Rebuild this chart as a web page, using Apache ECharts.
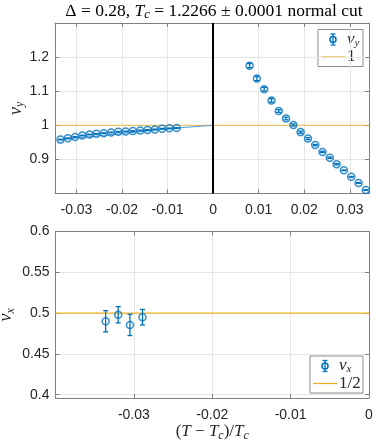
<!DOCTYPE html>
<html>
<head>
<meta charset="utf-8">
<script src="https://cdn.jsdelivr.net/npm/echarts@6/dist/echarts.min.js"></script>
<style>
  html, body { margin: 0; padding: 0; background: #fff; }
  #chart { width: 374px; height: 446px; }
</style>
</head>
<body>
<div id="chart"></div>
<script>
// top panel: nu_y on both sides of Tc
const leftT = [-0.0335, -0.0319, -0.0303, -0.0287, -0.0271, -0.0256, -0.0240, -0.0224, -0.0208,
  -0.0192, -0.0176, -0.0160, -0.0144, -0.0128, -0.0112, -0.0096, -0.0080];
const leftNu = [0.958, 0.962, 0.966, 0.970, 0.973, 0.975, 0.977, 0.979, 0.981,
  0.982, 0.983, 0.985, 0.986, 0.988, 0.990, 0.991, 0.992];
const leftErr = [0.001, 0.001, 0.001, 0.001, 0.001, 0.001, 0.001, 0.001, 0.001,
  0.001, 0.001, 0.001, 0.001, 0.001, 0.001, 0.001, 0.001];

const rightT = [0.0080, 0.0096, 0.0112, 0.0128, 0.0144, 0.0160, 0.0176, 0.0192, 0.0208,
  0.0224, 0.0240, 0.0256, 0.0271, 0.0287, 0.0303, 0.0319, 0.0335];
const rightNu = [1.175, 1.137, 1.106, 1.073, 1.042, 1.020, 1.001, 0.980, 0.961,
  0.942, 0.922, 0.905, 0.886, 0.868, 0.849, 0.831, 0.810];
const rightErr = [0.006, 0.006, 0.005, 0.005, 0.004, 0.004, 0.003, 0.003, 0.003,
  0.002, 0.002, 0.002, 0.002, 0.001, 0.001, 0.001, 0.001];

// thin fit line running into (0, 1)
const fitT = [-0.0335, -0.0080, 0];
const fitNu = [0.958, 0.992, 1.0];

// bottom panel: nu_x below Tc
const botT = [-0.0336, -0.0320, -0.0305, -0.0289];
const botNu = [0.490, 0.498, 0.4855, 0.495];
const botErr = [0.013, 0.010, 0.013, 0.0095];

// reference lines nu = 1 (top) and nu = 1/2 (bottom), plus Tc marker
const refTopT = [-0.0347, 0.0342];
const refTopNu = [1, 1];
const refBotT = [-0.04, 0];
const refBotNu = [0.5, 0.5];
const tcLine = 0;

const BLUE = '#0072BD';
const YELLOW = '#EDB120';
const AXIS = '#808080';
const TXT = '#262626';
const SERIF = '"Liberation Serif", "DejaVu Serif", serif';
const SANS = '"Liberation Sans", Arial, sans-serif';

const pairs = (xs, ys) => xs.map((x, i) => [x, ys[i]]);
const bars = (xs, ys, es) => xs.map((x, i) => [x, ys[i] - es[i], ys[i] + es[i]]);

function errorBar(params, api) {
  const x = api.value(0);
  const lo = api.coord([x, api.value(1)]);
  const hi = api.coord([x, api.value(2)]);
  const cap = 2.5;
  const style = { stroke: BLUE, lineWidth: 1.3, fill: null };
  return {
    type: 'group',
    children: [
      { type: 'line', shape: { x1: lo[0], y1: lo[1], x2: hi[0], y2: hi[1] }, style },
      { type: 'line', shape: { x1: lo[0] - cap, y1: lo[1], x2: lo[0] + cap, y2: lo[1] }, style },
      { type: 'line', shape: { x1: hi[0] - cap, y1: hi[1], x2: hi[0] + cap, y2: hi[1] }, style }
    ]
  };
}

const tickLabel = { color: TXT, fontFamily: SANS, fontSize: 14 };
const frameLine = { show: true, onZero: false, lineStyle: { color: AXIS, width: 1 } };
const inTick = { show: true, inside: true, length: 4, lineStyle: { color: AXIS } };
const grid = { show: true, lineStyle: { color: '#e6e6e6', width: 1 } };

function mirror(base, pos) {
  return Object.assign({}, base, {
    position: pos,
    axisLabel: { show: false },
    splitLine: { show: false },
    name: ''
  });
}

const nuRich = {
  i: { fontFamily: SERIF, fontStyle: 'italic', fontSize: 18, color: TXT },
  s: { fontFamily: SERIF, fontStyle: 'italic', fontSize: 12, color: TXT, padding: [8, 0, 0, 0] }
};

const xTop = {
  type: 'value', gridIndex: 0, position: 'bottom',
  min: -0.0347, max: 0.0342, splitNumber: 7,
  axisLine: frameLine, axisTick: inTick, splitLine: grid,
  axisLabel: Object.assign({ margin: 10, showMinLabel: false, showMaxLabel: false }, tickLabel)
};
const xBot = {
  type: 'value', gridIndex: 1, position: 'bottom',
  min: -0.04, max: 0, interval: 0.01,
  axisLine: frameLine, axisTick: inTick, splitLine: grid,
  axisLabel: Object.assign({ margin: 10, formatter: v => (v <= -0.0399 ? '' : String(v)) }, tickLabel),
  name: '{p|(}{i|T}{p| − }{i|T}{s|c}{p|)/}{i|T}{s|c}',
  nameLocation: 'middle', nameGap: 24,
  nameTextStyle: {
    rich: {
      p: { fontFamily: SERIF, fontSize: 17, color: TXT },
      i: { fontFamily: SERIF, fontStyle: 'italic', fontSize: 17, color: TXT },
      s: { fontFamily: SERIF, fontStyle: 'italic', fontSize: 12, color: TXT, padding: [8, 0, 0, 0] }
    }
  }
};
const yTop = {
  type: 'value', gridIndex: 0, position: 'left',
  min: 0.8, max: 1.3, interval: 0.1,
  axisLine: frameLine, axisTick: inTick, splitLine: grid,
  axisLabel: Object.assign({ margin: 6, formatter: v => (v < 0.85 || v > 1.25 ? '' : String(+v.toFixed(2))) }, tickLabel),
  name: '{i|ν}{s|y}', nameLocation: 'middle', nameGap: 29, nameRotate: 90, nameMoveOverlap: false,
  nameTextStyle: { rich: nuRich }
};
const yBot = {
  type: 'value', gridIndex: 1, position: 'left',
  min: 0.396, max: 0.6, splitNumber: 4,
  axisLine: frameLine, axisTick: inTick, splitLine: grid,
  axisLabel: Object.assign({ margin: 6, showMinLabel: false }, tickLabel),
  name: '{i|ν}{s|x}', nameLocation: 'middle', nameGap: 39, nameRotate: 90, nameMoveOverlap: false,
  nameTextStyle: { rich: nuRich }
};

const circle = {
  symbol: 'circle', symbolSize: 7,
  itemStyle: { color: 'rgba(255,255,255,0)', borderColor: BLUE, borderWidth: 1.5 }
};

function refLine(xi, yi, xs, ys, alpha) {
  return {
    type: 'line', xAxisIndex: xi, yAxisIndex: yi, data: pairs(xs, ys),
    showSymbol: false, silent: true, z: 2,
    lineStyle: { color: YELLOW, width: 1.2, opacity: alpha }
  };
}

function legendBox(x, y, w, h, sub, lineLabel) {
  const st = { stroke: BLUE, lineWidth: 1.3, fill: null };
  const cx = x + 15, cy = y + 10;
  return {
    type: 'group', z: 100,
    children: [
      { type: 'rect', shape: { x: x, y: y, width: w, height: h }, style: { fill: '#fff', stroke: '#8c8c8c', lineWidth: 1 } },
      { type: 'line', shape: { x1: cx, y1: cy - 5.5, x2: cx, y2: cy + 5.5 }, style: st },
      { type: 'line', shape: { x1: cx - 2.5, y1: cy - 5.5, x2: cx + 2.5, y2: cy - 5.5 }, style: st },
      { type: 'line', shape: { x1: cx - 2.5, y1: cy + 5.5, x2: cx + 2.5, y2: cy + 5.5 }, style: st },
      { type: 'circle', shape: { cx: cx, cy: cy, r: 3 }, style: { stroke: BLUE, lineWidth: 1.5, fill: null } },
      {
        type: 'text', x: x + 29, y: cy, style: {
          text: '{i|ν}{s|' + sub + '}', verticalAlign: 'middle',
          rich: {
            i: { fontFamily: SERIF, fontStyle: 'italic', fontSize: 17, fill: TXT },
            s: { fontFamily: SERIF, fontStyle: 'italic', fontSize: 11, fill: TXT, padding: [7, 0, 0, 0] }
          }
        }
      },
      { type: 'line', shape: { x1: x + 3, y1: y + h - 9.5, x2: x + 27, y2: y + h - 9.5 }, style: { stroke: YELLOW, lineWidth: 1.2 } },
      {
        type: 'text', x: x + 29, y: y + h - 9.5, style: {
          text: lineLabel, verticalAlign: 'middle', fontFamily: SERIF, fontSize: 17, fill: TXT
        }
      }
    ]
  };
}

const chart = echarts.init(document.getElementById('chart'));
chart.setOption({
  animation: false,
  backgroundColor: '#fff',
  grid: [
    { left: 55, top: 23, width: 314, height: 170.5, outerBoundsMode: 'none', containLabel: false },
    { left: 55.5, top: 231.5, width: 313.5, height: 166.5, outerBoundsMode: 'none', containLabel: false }
  ],
  xAxis: [xTop, mirror(xTop, 'top'), xBot, mirror(xBot, 'top')],
  yAxis: [yTop, mirror(yTop, 'right'), yBot, mirror(yBot, 'right')],
  graphic: [
    {
      type: 'text', x: 214, y: 11, z: 100, style: {
        text: '{r|Δ = 0.28, }{i|T}{s|c}{r| = 1.2266 ± 0.0001 normal cut}',
        textAlign: 'center', verticalAlign: 'middle',
        rich: {
          r: { fontFamily: SERIF, fontSize: 17.5, fill: '#000' },
          i: { fontFamily: SERIF, fontStyle: 'italic', fontSize: 17.5, fill: '#000' },
          s: { fontFamily: SERIF, fontStyle: 'italic', fontSize: 12.5, fill: '#000', padding: [7, 0, 0, 0] }
        }
      }
    },
    legendBox(318, 29.5, 45, 37, 'y', '1'),
    legendBox(310, 356, 53, 37, 'x', '1/2')
  ],
  series: [
    refLine(0, 0, refTopT, refTopNu, 0.65),
    {
      type: 'line', xAxisIndex: 0, yAxisIndex: 0, data: pairs(fitT, fitNu),
      showSymbol: false, silent: true, z: 2,
      lineStyle: { color: '#4a9fd8', width: 1 },
      markLine: {
        silent: true, symbol: 'none', label: { show: false },
        lineStyle: { color: '#000', width: 2, type: 'solid' },
        data: [{ xAxis: tcLine }]
      }
    },
    { type: 'custom', xAxisIndex: 0, yAxisIndex: 0, renderItem: errorBar, data: bars(leftT, leftNu, leftErr), z: 3 },
    { type: 'custom', xAxisIndex: 0, yAxisIndex: 0, renderItem: errorBar, data: bars(rightT, rightNu, rightErr), z: 3 },
    Object.assign({ type: 'scatter', xAxisIndex: 0, yAxisIndex: 0, data: pairs(leftT, leftNu), z: 4 }, circle),
    Object.assign({ type: 'scatter', xAxisIndex: 0, yAxisIndex: 0, data: pairs(rightT, rightNu), z: 4 }, circle),
    refLine(2, 2, refBotT, refBotNu, 1),
    Object.assign({ type: 'scatter', xAxisIndex: 2, yAxisIndex: 2, data: pairs(botT, botNu), z: 4 }, circle),
    { type: 'custom', xAxisIndex: 2, yAxisIndex: 2, renderItem: errorBar, data: bars(botT, botNu, botErr), z: 3 }
  ]
});
</script>
</body>
</html>
